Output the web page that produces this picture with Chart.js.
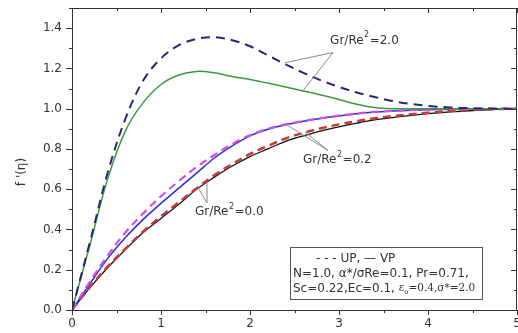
<!DOCTYPE html>
<html>
<head>
<meta charset="utf-8">
<script src="https://cdn.jsdelivr.net/npm/chart.js@4/dist/chart.umd.min.js"></script>
<style>
html, body { margin: 0; padding: 0; background: #fff; }
#wrap { width: 518px; height: 333px; }
</style>
</head>
<body>
<div id="wrap"><canvas id="chart"></canvas></div>
<script>
// eta grid shared by all curves
const eta = [0, 0.2, 0.4, 0.6, 0.8, 1.0, 1.2, 1.4, 1.6, 1.8, 2.0, 2.2, 2.4, 2.6, 2.8, 3.0, 3.2, 3.4, 3.6, 3.8, 4.0, 4.25, 4.5, 4.75, 5.0];

// Gr/Re^2 = 2.0
const up20 = [0, 0.335, 0.68, 0.95, 1.14, 1.25, 1.315, 1.347, 1.355, 1.34, 1.31, 1.265, 1.22, 1.178, 1.14, 1.108, 1.08, 1.058, 1.038, 1.024, 1.014, 1.006, 1.002, 1.0, 1.0];
const vp20 = [0, 0.32, 0.65, 0.89, 1.03, 1.12, 1.167, 1.185, 1.178, 1.16, 1.145, 1.127, 1.108, 1.088, 1.068, 1.046, 1.022, 1.006, 1.0, 1.0, 1.0, 1.0, 1.0, 1.0, 1.0];
// Gr/Re^2 = 0.2
const up02 = [0, 0.14, 0.27, 0.385, 0.48, 0.565, 0.64, 0.71, 0.77, 0.825, 0.868, 0.9, 0.922, 0.939, 0.953, 0.965, 0.976, 0.984, 0.989, 0.993, 0.996, 0.998, 0.999, 1.0, 1.0];
const vp02 = [0, 0.13, 0.255, 0.36, 0.45, 0.53, 0.605, 0.68, 0.755, 0.815, 0.865, 0.898, 0.92, 0.938, 0.952, 0.964, 0.975, 0.983, 0.988, 0.992, 0.995, 0.997, 0.999, 1.0, 1.0];
// Gr/Re^2 = 0.0
const up00 = [0, 0.115, 0.215, 0.305, 0.39, 0.465, 0.535, 0.605, 0.67, 0.725, 0.775, 0.815, 0.852, 0.88, 0.903, 0.922, 0.938, 0.952, 0.963, 0.972, 0.98, 0.988, 0.994, 0.998, 1.0];
const vp00 = [0, 0.11, 0.21, 0.30, 0.385, 0.455, 0.525, 0.6, 0.66, 0.715, 0.762, 0.8, 0.838, 0.865, 0.89, 0.91, 0.928, 0.944, 0.956, 0.966, 0.975, 0.984, 0.991, 0.996, 1.0];

const xTicks = [0, 1, 2, 3, 4, 5];
const yTicks = [0, 0.2, 0.4, 0.6, 0.8, 1.0, 1.2, 1.4];
const xMinor = [0.5, 1.5, 2.5, 3.5, 4.5];
const yMinor = [0.1, 0.3, 0.5, 0.7, 0.9, 1.1, 1.3, 1.5];

const FONT = '"DejaVu Sans", sans-serif';

function pts(vals) {
    return eta.map((x, i) => ({ x: x, y: vals[i] }));
}

function curve(vals, color, width, dash) {
    return {
        data: pts(vals),
        borderColor: color,
        borderWidth: width,
        borderDash: dash || [],
        pointRadius: 0,
        fill: false,
        tension: 0.35
    };
}

// label positions in data units: text anchor, leader apex, leader ends
const notes = [
    { text: '2.0', at: [2.9, 1.339], apex: [2.933, 1.279], ends: [[2.393, 1.228], [2.584, 1.083]] },
    { text: '0.2', at: [2.596, 0.744], apex: [2.876, 0.793], ends: [[2.404, 0.922], [2.618, 0.883]] },
    { text: '0.0', at: [1.382, 0.486], apex: [1.517, 0.531], ends: [[1.416, 0.608], [1.517, 0.635]] }
];

function grLabel(ctx, x, y, value) {
    ctx.textAlign = 'left';
    ctx.textBaseline = 'middle';
    ctx.font = '12px ' + FONT;
    ctx.fillText('Gr/Re', x, y);
    let w = ctx.measureText('Gr/Re').width;
    ctx.font = '8px ' + FONT;
    ctx.fillText('2', x + w + 0.5, y - 5);
    w += ctx.measureText('2').width + 1;
    ctx.font = '12px ' + FONT;
    ctx.fillText('=' + value, x + w, y);
}

const decor = {
    id: 'decor',
    afterDatasetsDraw(chart) {
        const { ctx, chartArea: a, scales: { x, y } } = chart;
        ctx.save();

        // frame
        ctx.strokeStyle = '#333';
        ctx.lineWidth = 1;
        ctx.strokeRect(a.left + 0.5, a.top + 0.5, a.right - a.left - 1, a.bottom - a.top);

        // ticks
        ctx.beginPath();
        xTicks.forEach(v => {
            const px = Math.round(x.getPixelForValue(v)) + 0.5;
            ctx.moveTo(px, a.bottom); ctx.lineTo(px, a.bottom + 5);
            ctx.moveTo(px, a.top); ctx.lineTo(px, a.top + 5);
        });
        xMinor.forEach(v => {
            const px = Math.round(x.getPixelForValue(v)) + 0.5;
            ctx.moveTo(px, a.bottom); ctx.lineTo(px, a.bottom + 3);
            ctx.moveTo(px, a.top); ctx.lineTo(px, a.top + 3);
        });
        yTicks.forEach(v => {
            const py = Math.round(y.getPixelForValue(v)) + 0.5;
            ctx.moveTo(a.left - 6, py); ctx.lineTo(a.left, py);
            ctx.moveTo(a.right, py); ctx.lineTo(a.right - 6, py);
        });
        yMinor.forEach(v => {
            const py = Math.round(y.getPixelForValue(v)) + 0.5;
            ctx.moveTo(a.left - 3, py); ctx.lineTo(a.left, py);
            ctx.moveTo(a.right, py); ctx.lineTo(a.right - 3, py);
        });
        ctx.stroke();

        // y axis title
        ctx.save();
        ctx.translate(22, 172);
        ctx.rotate(-Math.PI / 2);
        ctx.fillStyle = '#333';
        ctx.font = '12px ' + FONT;
        ctx.textAlign = 'center';
        ctx.textBaseline = 'middle';
        ctx.fillText("f '(\u03b7)", 0, 0);
        ctx.restore();

        // Gr/Re^2 labels with leader lines
        ctx.strokeStyle = '#8a8a8a';
        ctx.fillStyle = '#333';
        notes.forEach(n => {
            const ax = x.getPixelForValue(n.apex[0]), ay = y.getPixelForValue(n.apex[1]);
            ctx.beginPath();
            n.ends.forEach(e => {
                ctx.moveTo(ax, ay);
                ctx.lineTo(x.getPixelForValue(e[0]), y.getPixelForValue(e[1]));
            });
            ctx.stroke();
            grLabel(ctx, x.getPixelForValue(n.at[0]), y.getPixelForValue(n.at[1]), n.text);
        });

        // parameter box
        const bx = a.right - 227, by = a.bottom - 63, bw = 192, bh = 52;
        ctx.fillStyle = '#fff';
        ctx.fillRect(bx, by, bw, bh);
        ctx.strokeStyle = '#555';
        ctx.strokeRect(bx + 0.5, by + 0.5, bw, bh);
        ctx.fillStyle = '#333';
        ctx.textAlign = 'left';
        ctx.textBaseline = 'middle';
        ctx.font = '12px ' + FONT;
        ctx.fillText('- - - UP, \u2014 VP', bx + 26, by + 11.5);
        ctx.fillText('N=1.0, \u03b1*/\u03c3Re=0.1, Pr=0.71,', bx + 3, by + 26.5);
        const s = 'Sc=0.22,Ec=0.1, ';
        ctx.fillText(s, bx + 3, by + 41.5);
        let tx = bx + 3 + ctx.measureText(s).width;
        ctx.font = '10.5px "DejaVu Serif", serif';
        ctx.fillText('\u03b5', tx, by + 41.5);
        tx += ctx.measureText('\u03b5').width;
        ctx.font = '7px "DejaVu Serif", serif';
        ctx.fillText('o', tx, by + 45);
        tx += ctx.measureText('o').width;
        ctx.font = '10.5px "DejaVu Serif", serif';
        ctx.fillText('=0.4,\u03c3*=2.0', tx, by + 41.5);

        ctx.restore();
    }
};

new Chart(document.getElementById('chart'), {
    type: 'line',
    data: {
        datasets: [
            curve(up20, '#27277a', 2, [9, 6]),
            curve(vp20, '#3b9b3b', 1.5),
            curve(up02, '#d44ee2', 2.2, [8, 5]),
            curve(vp02, '#2c2cd8', 1.5),
            curve(up00, '#c63b3b', 2.5, [8, 5]),
            curve(vp00, '#111111', 1.3)
        ]
    },
    options: {
        responsive: true,
        maintainAspectRatio: false,
        animation: false,
        devicePixelRatio: 1,
        layout: { padding: { top: 8, right: 1, bottom: 0, left: 0 } },
        plugins: { legend: { display: false }, tooltip: { enabled: false } },
        scales: {
            x: {
                type: 'linear',
                min: 0,
                max: 5,
                afterBuildTicks: s => { s.ticks = xTicks.map(v => ({ value: v })); },
                afterFit: s => { s.height = 23; s.paddingLeft = 0; s.paddingRight = 0; },
                grid: { display: false, drawTicks: false },
                border: { display: false },
                ticks: { color: '#333', font: { family: FONT, size: 12 }, padding: 7, maxRotation: 0, autoSkip: false }
            },
            y: {
                type: 'linear',
                min: 0,
                max: 1.5,
                afterBuildTicks: s => { s.ticks = yTicks.map(v => ({ value: v })); },
                afterFit: s => { s.width = 72; s.paddingTop = 0; s.paddingBottom = 0; },
                grid: { display: false, drawTicks: false },
                border: { display: false },
                ticks: { color: '#333', font: { family: FONT, size: 12 }, padding: 10, autoSkip: false,
                    callback: v => v.toFixed(1) }
            }
        }
    },
    plugins: [decor]
});
</script>
</body>
</html>
